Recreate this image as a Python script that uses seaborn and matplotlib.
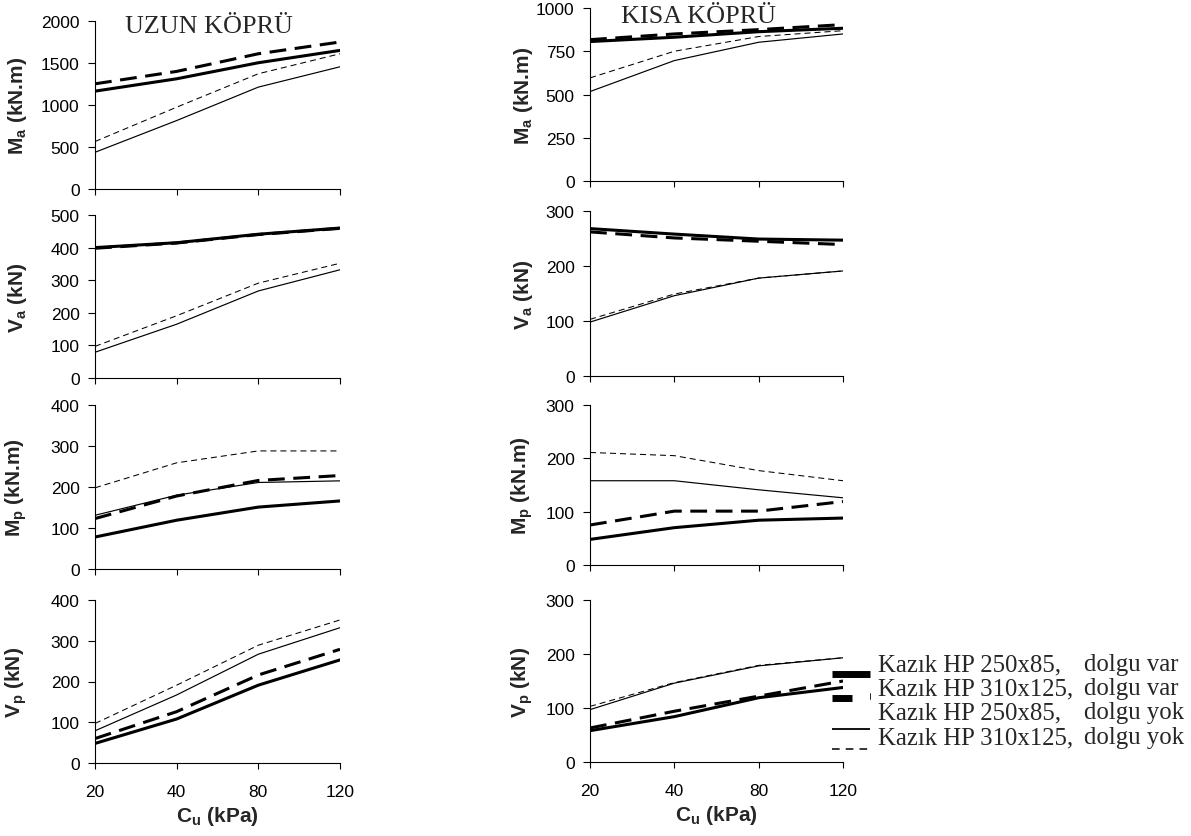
import numpy as np
import pandas as pd
import matplotlib
matplotlib.use('Agg')
import matplotlib.pyplot as plt
import seaborn as sns
from matplotlib.lines import Line2D

sns.set_style('ticks')
plt.rcParams['font.family'] = ['Liberation Sans', 'DejaVu Sans']
plt.rcParams['mathtext.default'] = 'regular'

# x categories (C_u, kPa)
cu = ['20', '40', '80', '120']

pile_names = ['Kazık HP 250x85,', 'Kazık HP 310x125,',
              'Kazık HP 250x85,', 'Kazık HP 310x125,']
fill_names = ['dolgu var', 'dolgu var', 'dolgu yok', 'dolgu yok']

# UZUN KÖPRÜ (long bridge)
uzun_ma = [[1165, 1312, 1503, 1650], [1252, 1400, 1610, 1750],
           [437, 815, 1213, 1455], [565, 974, 1372, 1610]]
uzun_va = [[400, 415, 441, 460], [398, 414, 440, 459],
           [79, 165, 267, 332], [97, 191, 291, 352]]
uzun_mp = [[78, 119, 151, 166], [123, 178, 216, 228],
           [131, 180, 211, 215], [198, 259, 288, 288]]
uzun_vp = [[48, 108, 191, 253], [60, 126, 216, 279],
           [79, 167, 267, 332], [97, 191, 289, 351]]

# KISA KÖPRÜ (short bridge)
kisa_ma = [[806, 831, 863, 883], [817, 850, 875, 904],
           [517, 696, 802, 850], [596, 750, 835, 869]]
kisa_va = [[268, 258, 249, 247], [262, 251, 245, 239],
           [98, 146, 178, 191], [103, 149, 178, 191]]
kisa_mp = [[48, 70, 84, 88], [75, 101, 101, 119],
           [158, 158, 141, 126], [211, 205, 177, 158]]
kisa_vp = [[58, 84, 119, 138], [63, 94, 122, 150],
           [97, 146, 178, 193], [103, 147, 179, 193]]

ylabels = ['M$_a$ (kN.m)', 'V$_a$ (kN)', 'M$_p$ (kN.m)', 'V$_p$ (kN)']

styles = [dict(lw=2.2, ls='-'),
          dict(lw=2.2, ls=(0, (5.5, 2.8))),
          dict(lw=0.85, ls='-'),
          dict(lw=0.75, ls=(0, (5.8, 3.8)))]

W, H = 1191, 837
fig = plt.figure(figsize=(W / 100, H / 100), dpi=100)


def add_ax(x0, x1, y0, y1):
    return fig.add_axes([x0 / W, 1 - y1 / H, (x1 - x0) / W, (y1 - y0) / H])


left_rows = [(22, 190), (216, 379), (406, 570), (601, 764)]
right_rows = [(9, 182), (212, 377), (406, 566), (601, 763)]

columns = [
    dict(x=(95, 340), rows=left_rows, data=[uzun_ma, uzun_va, uzun_mp, uzun_vp],
         ylims=[(0, 2000), (0, 500), (0, 400), (0, 400)],
         yticks=[np.arange(0, 2001, 500), np.arange(0, 501, 100),
                 np.arange(0, 401, 100), np.arange(0, 401, 100)]),
    dict(x=(590, 843), rows=right_rows, data=[kisa_ma, kisa_va, kisa_mp, kisa_vp],
         ylims=[(0, 1000), (0, 300), (0, 300), (0, 300)],
         yticks=[np.arange(0, 1001, 250), np.arange(0, 301, 100),
                 np.arange(0, 301, 100), np.arange(0, 301, 100)]),
]

axes = []
for col in columns:
    col_axes = []
    for i, (y0, y1) in enumerate(col['rows']):
        ax = add_ax(col['x'][0], col['x'][1], y0, y1)
        for k, vals in enumerate(col['data'][i]):
            df = pd.DataFrame({'Cu': cu, 'val': vals})
            sns.lineplot(data=df, x='Cu', y='val', ax=ax, color='black',
                         linewidth=styles[k]['lw'], linestyle=styles[k]['ls'],
                         sort=False)
        ax.set_xlim(0, 3)
        ax.set_ylim(*col['ylims'][i])
        ax.set_yticks(col['yticks'][i])
        ax.set_xticks(range(4))
        ax.tick_params(axis='y', direction='out', length=5, width=0.8,
                       labelsize=12.5, colors='black', pad=6)
        ax.tick_params(axis='x', direction='out', length=4, width=0.8,
                       labelsize=12.5, colors='black', pad=11)
        sns.despine(ax=ax)
        for s in ['left', 'bottom']:
            ax.spines[s].set_linewidth(0.8)
            ax.spines[s].set_color('black')
        ax.set_ylabel(ylabels[i], fontsize=15, fontweight='bold')
        if i < 3:
            ax.set_xticklabels([])
            ax.set_xlabel('')
        else:
            ax.set_xticklabels(cu)
            ax.set_xlabel('C$_u$ (kPa)', fontsize=15, fontweight='bold',
                          labelpad=4)
        col_axes.append(ax)
    axes.append(col_axes)

# align ylabels per column (right edge of the rotated label)
for col_axes, xpos in zip(axes, [29, 535]):
    for ax in col_axes:
        bb = ax.get_position()
        ax.yaxis.set_label_coords((xpos - bb.x0 * W) / (bb.width * W), 0.5)

fig.text(209 / W, 1 - 27 / H, 'UZUN KÖPRÜ', family='Liberation Serif',
         fontsize=18.8, ha='center', va='center')
fig.text(699 / W, 1 - 17 / H, 'KISA KÖPRÜ', family='Liberation Serif',
         fontsize=18.8, ha='center', va='center')

# legend, drawn by hand to keep the offset handles of the original
text_y = [665, 689, 713, 738]
handle_y = [675, 699, 730, 750]
handle_x = [(832, 870), (832, 852), (832, 870), (832, 870)]
handle_lw = [5.0, 5.0, 1.3, 1.1]
handle_ls = ['-', '-', '-', (0, (5, 4))]
for k in range(4):
    x0, x1 = handle_x[k]
    fig.add_artist(Line2D([x0 / W, x1 / W], [1 - handle_y[k] / H] * 2,
                          transform=fig.transFigure, color='black',
                          linewidth=handle_lw[k], linestyle=handle_ls[k],
                          solid_capstyle='butt', dash_capstyle='butt'))
    fig.text(878 / W, 1 - text_y[k] / H, pile_names[k],
             family='Liberation Serif', fontsize=17.8, va='center')
    fig.text(1084 / W, 1 - text_y[k] / H, fill_names[k],
             family='Liberation Serif', fontsize=17.8, va='center')
fig.add_artist(Line2D([870 / W, 870 / W], [1 - 694 / H, 1 - 700 / H],
                      transform=fig.transFigure, color='black', linewidth=0.6))

fig.savefig('out.png', dpi=100)
